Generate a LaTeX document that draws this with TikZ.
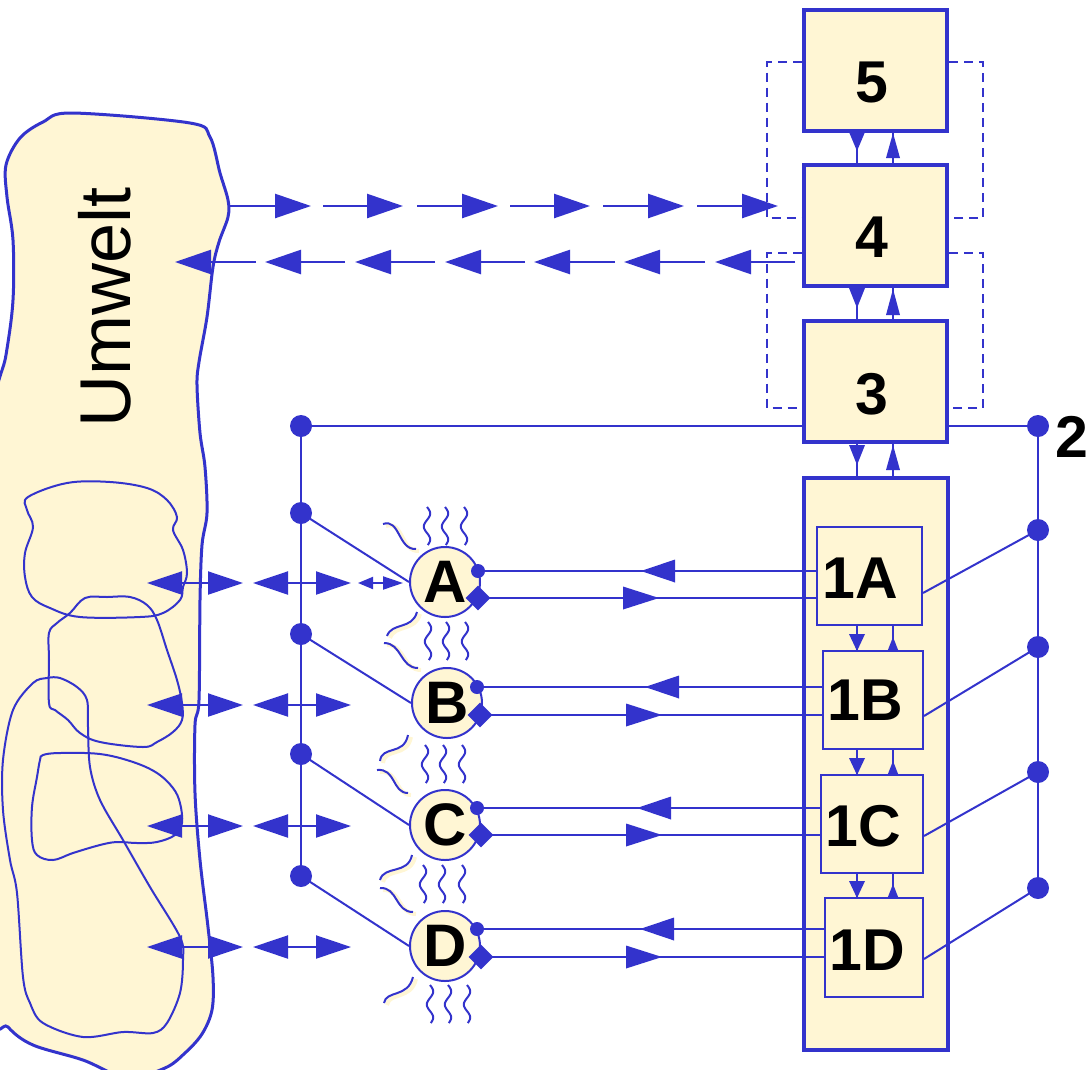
\documentclass[tikz,border=0pt]{standalone}
\usepackage{fontspec}
\setmainfont{Liberation Sans}
\usetikzlibrary{arrows.meta,shapes.geometric,calc}
\definecolor{bl}{RGB}{51,51,204}
\definecolor{cr}{RGB}{255,246,212}
\newcommand\atip[5]{\fill[bl,shift={(#1,#2)},rotate=#3] (0,0) -- (-#4,#5/2) -- (-#4,-#5/2) -- cycle;}
\newcommand\vsq[2]{\draw[sq] plot[domain=0:38,samples=30,smooth] ({#1+3.2*sin(\x*360/26)},{#2+\x});}
\newcommand\hsq[1]{\draw[cr,line width=4pt,shift={(3,2)}] #1; \draw[sq] #1;}
\tikzset{
 bline/.style={draw=bl,line width=2pt},
 bigbox/.style={rectangle,draw=bl,fill=cr,line width=4pt,inner sep=0pt},
 subbox/.style={rectangle,draw=bl,fill=cr,line width=2pt,inner sep=0pt},
 lbl/.style={font=\bfseries\fontsize{59}{59}\selectfont,inner sep=0pt},
 cnode/.style={circle,draw=bl,fill=cr,line width=2pt,minimum size=70pt,inner sep=0pt,font=\bfseries\fontsize{60}{60}\selectfont},
 bdot/.style={circle,fill=bl,minimum size=22pt,inner sep=0pt},
 sdot/.style={circle,fill=bl,minimum size=14pt,inner sep=0pt},
 dmd/.style={diamond,fill=bl,minimum size=25pt,inner sep=0pt},
 dsh/.style={draw=bl,line width=2pt,dash pattern=on 9pt off 6pt},
 sq/.style={draw=bl,line width=2pt},
 bigtip/.style={draw=bl,line width=2.5pt,-{Triangle[length=36pt,width=24pt]}},
 dbl/.style={draw=bl,line width=2pt,{Triangle[length=35pt,width=23pt]}-{Triangle[length=35pt,width=23pt]}},
 loopln/.style={draw=bl,line width=2pt},
}
\begin{document}
\begin{tikzpicture}[x=1pt,y=-1pt]
\useasboundingbox (0,0) rectangle (1089,1069);
\clip (0,0) rectangle (1089,1069);
% Umwelt blob
\draw[draw=bl,fill=cr,line width=3pt] plot[smooth cycle,tension=0.55] coordinates {(72,113) (190,123) (210,137) (220,173) (228,200) (228,217) (219,242) (213,267) (207,317) (199,362) (197,385) (200,433) (205,467) (207,513) (202,545) (200,600) (199,700) (195,725) (195,793) (200,860) (208,927) (213,977) (212,1010) (202,1034) (185,1053) (165,1068) (127,1078) (83,1060) (33,1045) (8,1027) (-8,1000) (-12,700) (-8,430) (6,355) (13,300) (13,240) (7,197) (6,165) (20,138) (43,122)};
\draw[loopln] plot[smooth cycle,tension=0.6] coordinates {(28,497) (67,483) (110,482) (147,488) (167,500) (177,517) (173,530) (183,550) (187,573) (183,587) (180,600) (163,613) (140,617) (80,617) (50,608) (32,597) (25,577) (25,553) (33,527) (27,510)};
\draw[loopln] plot[smooth cycle,tension=0.6] coordinates {(85,598) (107,597) (130,597) (147,605) (157,620) (167,650) (177,680) (182,703) (182,720) (173,732) (157,742) (143,747) (100,742) (80,733) (68,720) (55,710) (49,703) (49,660) (49,633) (57,623) (70,613)};
\draw[loopln] plot[smooth cycle,tension=0.55] coordinates {(47,678) (33,683) (13,710) (3,760) (3,810) (10,860) (17,893) (23,977) (30,1003) (43,1023) (83,1037) (123,1032) (153,1033) (167,1023) (180,993) (183,960) (180,937) (150,887) (123,840) (100,800) (90,767) (88,727) (87,700) (77,687) (60,678)};
\draw[loopln] plot[smooth cycle,tension=0.6] coordinates {(43,755) (60,753) (100,754) (133,762) (157,773) (173,788) (180,803) (182,823) (175,835) (157,842) (137,843) (117,842) (100,845) (73,853) (53,860) (37,855) (32,840) (32,807) (37,777) (40,760)};
\node[rotate=90,font=\fontsize{72}{72}\selectfont,inner sep=0pt] (umw) at (105,307) {Umwelt};
% boxes
\node[bigbox,minimum width=143.5pt,minimum height=121pt] (b5) at (875.25,70) {};
\node[bigbox,minimum width=143.5pt,minimum height=121pt] (b4) at (875.25,225.5) {};
\node[bigbox,minimum width=143.5pt,minimum height=121pt] (b3) at (875.25,381.5) {};
\node[bigbox,minimum width=144pt,minimum height=572pt] (b1) at (875.5,764) {};
\node[lbl] (t5) at (872,82) {5};
\node[lbl] (t4) at (872,237) {4};
\node[lbl] (t3) at (872,394) {3};
\node[subbox,minimum width=105pt,minimum height=98pt] (s1A) at (869.5,576) {};
\node[subbox,minimum width=100pt,minimum height=98pt] (s1B) at (873,700) {};
\node[subbox,minimum width=102pt,minimum height=98pt] (s1C) at (872,824) {};
\node[subbox,minimum width=98pt,minimum height=99pt] (s1D) at (874,947.5) {};
\node[lbl] (t1A) at (860,578) {1A};
\node[lbl] (t1B) at (865,700) {1B};
\node[lbl] (t1C) at (863,826) {1C};
\node[lbl] (t1D) at (867,950) {1D};
\node[lbl,anchor=west] (t2) at (1055,437) {2};
% circles
\node[cnode] (cA) at (445,582) {A};
\node[cnode] (cB) at (447,703) {B};
\node[cnode] (cC) at (445,825) {C};
\node[cnode] (cD) at (445,946) {D};
\node[sdot] (pA) at (478,571) {};
\node[sdot] (pB) at (477,687) {};
\node[sdot] (pC) at (477,808) {};
\node[sdot] (pD) at (477,929) {};
\node[dmd] (qA) at (478,598) {};
\node[dmd] (qB) at (480,715) {};
\node[dmd] (qC) at (481,835) {};
\node[dmd] (qD) at (481,957) {};
% bus dots
\node[bdot] (L1) at (301,426) {};
\node[bdot] (L2) at (301,513) {};
\node[bdot] (L3) at (301,634) {};
\node[bdot] (L4) at (301,754) {};
\node[bdot] (L5) at (301,876) {};
\node[bdot] (R1) at (1038,426) {};
\node[bdot] (R2) at (1038,530) {};
\node[bdot] (R3) at (1038,647) {};
\node[bdot] (R4) at (1038,772) {};
\node[bdot] (R5) at (1038,888) {};
% bus lines
\draw[bline] (L1.center) -- (L5.center);
\draw[bline] (L1.center) -- (b3.west |- L1.center);
\draw[bline] (b3.east |- R1.center) -- (R1.center) -- (R5.center);
\draw[bline] (L2.center) -- (cA.west);
\draw[bline] (L3.center) -- (cB.west);
\draw[bline] (L4.center) -- (cC.west);
\draw[bline] (L5.center) -- (cD.west);
\draw[bline] (R2.center) -- (s1A.east |- 0,593);
\draw[bline] (R3.center) -- (s1B.east |- 0,716);
\draw[bline] (R4.center) -- (s1C.east |- 0,836);
\draw[bline] (R5.center) -- (s1D.east |- 0,959);
% circle to sub-box lines
\draw[bline] (pA.center) -- (s1A.west |- pA.center);
\draw[bline] (qA.center) -- (s1A.west |- qA.center);
\draw[bline] (pB.center) -- (s1B.west |- pB.center);
\draw[bline] (qB.center) -- (s1B.west |- qB.center);
\draw[bline] (pC.center) -- (s1C.west |- pC.center);
\draw[bline] (qC.center) -- (s1C.west |- qC.center);
\draw[bline] (pD.center) -- (s1D.west |- pD.center);
\draw[bline] (qD.center) -- (s1D.west |- qD.center);
\atip{641}{571}{180}{34}{23} \atip{659}{598}{0}{36}{23}
\atip{645}{687}{180}{34}{23} \atip{662}{715}{0}{36}{23}
\atip{637}{808}{180}{34}{23} \atip{662}{835}{0}{36}{23}
\atip{640}{929}{180}{34}{23} \atip{662}{957}{0}{36}{23}
% vertical arrows between boxes
\draw[bline] (b5.south -| 857,0) -- (b4.north -| 857,0);
\draw[bline] (b4.north -| 893,0) -- (b5.south -| 893,0);
\draw[bline] (b4.south -| 857,0) -- (b3.north -| 857,0);
\draw[bline] (b3.north -| 893,0) -- (b4.south -| 893,0);
\draw[bline] (b3.south -| 857,0) -- (b1.north -| 857,0);
\draw[bline] (b1.north -| 893,0) -- (b3.south -| 893,0);
\atip{857}{151}{-90}{19}{16} \atip{893}{133}{90}{25}{14}
\atip{857}{308}{-90}{20}{16} \atip{893}{289}{90}{26}{14}
\atip{857}{465}{-90}{20}{16} \atip{893}{445}{90}{25}{14}
\draw[bline] (s1A.south -| 857,0) -- (s1B.north -| 857,0);
\draw[bline] (s1B.north -| 893,0) -- (s1A.south -| 893,0);
\draw[bline] (s1B.south -| 857,0) -- (s1C.north -| 857,0);
\draw[bline] (s1C.north -| 893,0) -- (s1B.south -| 893,0);
\draw[bline] (s1C.south -| 857,0) -- (s1D.north -| 857,0);
\draw[bline] (s1D.north -| 893,0) -- (s1C.south -| 893,0);
\atip{857}{651}{-90}{17}{16} \atip{893}{637}{90}{14}{11}
\atip{857}{775}{-90}{17}{16} \atip{893}{761}{90}{14}{11}
\atip{857}{898}{-90}{17}{16} \atip{893}{884}{90}{14}{11}
% dashed brackets
\draw[dsh] (b5.west |- 0,62) -- (767,62) -- (767,218) -- (b4.west |- 0,218);
\draw[dsh] (b5.east |- 0,62) -- (983,62) -- (983,218) -- (b4.east |- 0,218);
\draw[dsh] (b4.west |- 0,253) -- (767,253) -- (767,408) -- (b3.west |- 0,408);
\draw[dsh] (b4.east |- 0,253) -- (983,253) -- (983,408) -- (b3.east |- 0,408);
% dashed arrow rows Umwelt <-> 4
\foreach \a/\b in {229/311,323/403,417/498,510/590,603/684,697/778}
  \draw[bigtip] (\a,206) -- (\b,206);
\foreach \a/\b in {795/715,705/624,615/534,525/445,435/355,345/265,256/175}
  \draw[bigtip] (\a,262) -- (\b,262);
% left double arrows
\foreach \y in {583,705,826,947} {
  \draw[dbl] (147,\y) -- (243,\y);
  \draw[dbl] (253,\y) -- (351,\y);
}
\draw[draw=bl,line width=2pt,{Triangle[length=15pt,width=12pt]}-{Triangle[length=20pt,width=13pt]}] (358,583) -- (403,583);
% squiggles
\vsq{427}{507} \vsq{445}{507} \vsq{464}{507}
\vsq{428}{622} \vsq{446}{622} \vsq{465}{622}
\vsq{425}{745} \vsq{443}{745} \vsq{462}{745}
\vsq{423}{865} \vsq{442}{865} \vsq{462}{865}
\vsq{430}{985} \vsq{448}{985} \vsq{467}{985}
\hsq{(383,524) .. controls (400,518) and (398,550) .. (416,549)}
\hsq{(417,612) .. controls (412,630) and (392,622) .. (387,636)}
\hsq{(384,643) .. controls (402,643) and (400,668) .. (418,668)}
\hsq{(408,735) .. controls (404,756) and (382,745) .. (380,761)}
\hsq{(377,770) .. controls (396,768) and (392,793) .. (408,793)}
\hsq{(412,855) .. controls (408,875) and (384,865) .. (380,880)}
\hsq{(380,888) .. controls (398,887) and (395,912) .. (413,912)}
\hsq{(413,977) .. controls (408,998) and (386,990) .. (384,1003)}
\end{tikzpicture}
\end{document}
